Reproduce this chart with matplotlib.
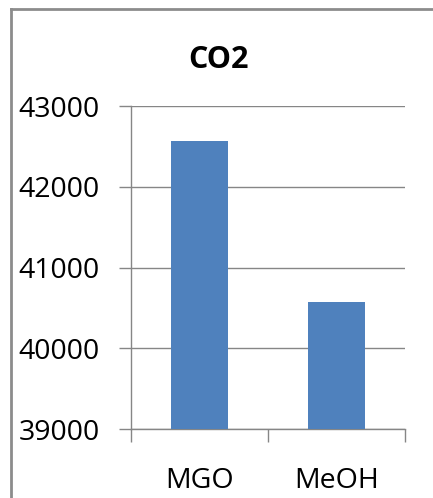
import matplotlib.pyplot as plt
from matplotlib.lines import Line2D

# 数据
categories = ["MGO", "MeOH"]
values = [42570, 40575]
y_ticks = [39000, 40000, 41000, 42000, 43000]

plt.rcParams['font.family'] = ['Open Sans', 'DejaVu Sans']

W, H = 433, 498
fig = plt.figure(figsize=(W / 100, H / 100), dpi=100)
ax = fig.add_axes([131 / W, 1 - 429 / H, (405 - 131) / W, (429 - 106) / H])

x = list(range(len(categories)))
ax.bar(x, values, width=0.41, color='#4F81BD', zorder=3)

ax.set_xlim(-0.5, len(categories) - 0.5)
ax.set_ylim(y_ticks[0], y_ticks[-1])
ax.set_yticks(y_ticks)
ax.set_yticklabels([str(v) for v in y_ticks])
ax.yaxis.grid(True, color='#868686', linewidth=1.0, zorder=0)

ax.set_xticks(x)
ax.set_xticklabels(categories)
ax.set_xticks([i - 0.5 for i in range(len(categories) + 1)], minor=True)

for s in ['top', 'right']:
    ax.spines[s].set_visible(False)
for s in ['left', 'bottom']:
    ax.spines[s].set_color('#868686')
    ax.spines[s].set_linewidth(1.0)

ax.tick_params(axis='y', direction='out', length=8.6, width=1.0, color='#868686',
               labelsize=20.5, pad=14)
ax.tick_params(axis='x', which='major', length=0, labelsize=20.5, pad=27)
ax.tick_params(axis='x', which='minor', direction='out', length=9.4, width=1.0,
               color='#868686')

fig.text(218 / W, 1 - 60 / H, "CO2", ha='center', va='center', fontsize=22,
         fontweight='bold')

# 图表外框 (只露出左边和上边)
border = dict(color='#8c8c8c', linewidth=2.0, transform=fig.transFigure)
fig.add_artist(Line2D([11 / W, 11 / W], [0, 1 - 9 / H], **border))
fig.add_artist(Line2D([11 / W, 1], [1 - 9 / H, 1 - 9 / H], **border))

fig.savefig('out.png', dpi=100)
